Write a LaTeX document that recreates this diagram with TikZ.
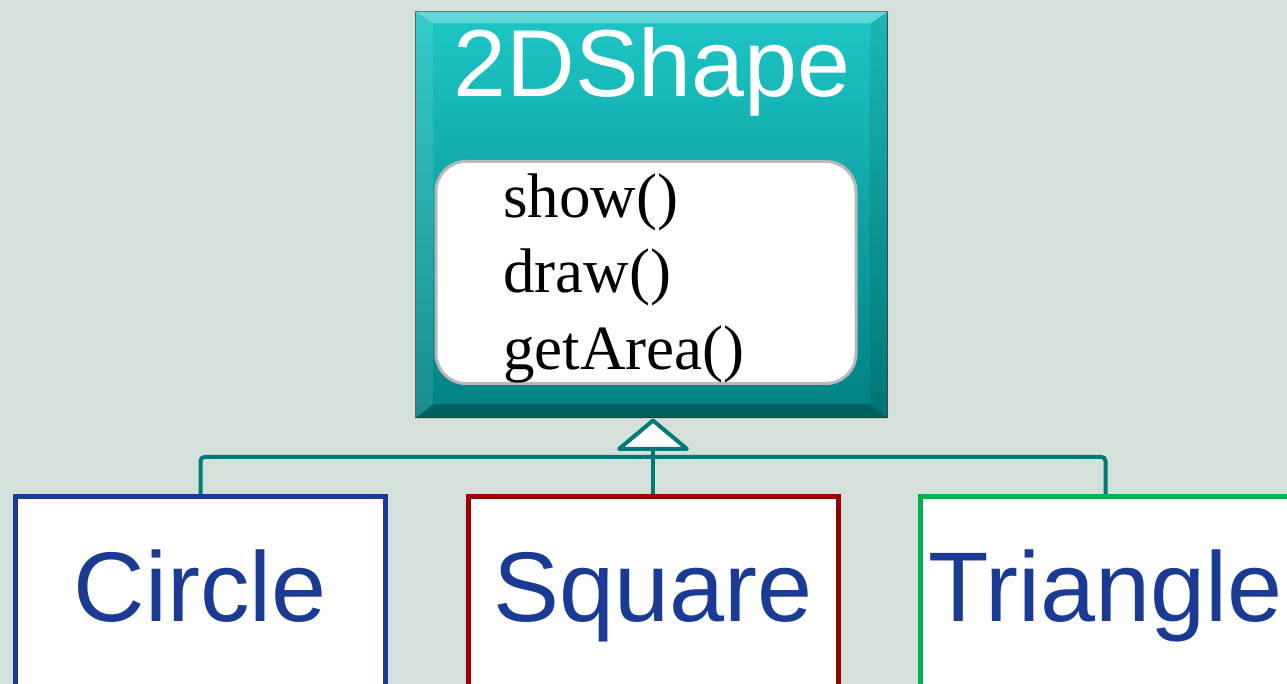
\documentclass[tikz,border=0pt]{standalone}
\usepackage{fontspec}
\setmainfont{Liberation Serif}
\setsansfont{Liberation Sans}
\usetikzlibrary{arrows.meta,positioning}
\definecolor{canvas}{RGB}{212,225,219}
\definecolor{tealtop}{RGB}{30,198,198}
\definecolor{tealbot}{RGB}{0,128,128}
\definecolor{linkteal}{RGB}{0,122,118}
\definecolor{navytext}{RGB}{26,58,148}
\definecolor{circblue}{RGB}{26,58,148}
\definecolor{sqred}{RGB}{153,0,0}
\definecolor{trigreen}{RGB}{0,176,80}
\tikzset{
  super/.style={rectangle,draw=gray!60!black,line width=0.5pt,top color=tealtop,
                bottom color=tealbot,minimum width=236pt,minimum height=203pt,inner sep=0pt},
  opsbox/.style={rectangle,rounded corners=15pt,draw=gray!55,line width=1.5pt,
                 fill=white,minimum width=210pt,minimum height=111pt},
  title/.style={font=\sffamily\fontsize{47.6}{50}\selectfont,text=white,inner sep=0pt},
  method/.style={font=\fontsize{31.5}{38}\selectfont,inner sep=0pt},
  sub/.style={rectangle,draw=#1,line width=2.5pt,fill=white,inner sep=2pt,
              minimum width=185pt,minimum height=104pt,text height=35.5pt,text depth=14pt,
              font=\sffamily\fontsize{49.5}{52}\selectfont,text=navytext},
  link/.style={draw=linkteal,line width=2pt,rounded corners=2pt},
}

\begin{document}
\begin{tikzpicture}[x=0.5pt,y=-0.5pt]
  \useasboundingbox (0,0) rectangle (1287,684);
  \fill[canvas] (0,0) rectangle (1287,684);
  \clip (0,0) rectangle (1287,684);
  % superclass box with bevel
  \node[super] (shape) at (651.5,215) {};
  \fill[white,opacity=0.3] (shape.north west) -- (shape.north east)
    -- ([xshift=-9pt,yshift=-6pt]shape.north east) -- ([xshift=9pt,yshift=-6pt]shape.north west) -- cycle;
  \fill[white,opacity=0.1] (shape.north west) -- ([xshift=9pt,yshift=-6pt]shape.north west)
    -- ([xshift=9pt,yshift=7pt]shape.south west) -- (shape.south west) -- cycle;
  \fill[black,opacity=0.08] (shape.north east) -- ([xshift=-9pt,yshift=-6pt]shape.north east)
    -- ([xshift=-9pt,yshift=7pt]shape.south east) -- (shape.south east) -- cycle;
  \fill[black,opacity=0.25] (shape.south west) -- (shape.south east)
    -- ([xshift=-9pt,yshift=7pt]shape.south east) -- ([xshift=9pt,yshift=7pt]shape.south west) -- cycle;
  \node[title,anchor=base] (name) at (652,97) {2DShape};
  \node[opsbox] (ops) at (646,272.5) {};
  \node[method,anchor=base west] (mshow) at (503,218) {show()};
  \node[method,anchor=base west] (mdraw) at (503,293) {draw()};
  \node[method,anchor=base west] (marea) at (503,370) {getArea()};
  % subclasses
  \node[sub=circblue] (circle) at (200.5,600.5) {Circle};
  \node[sub=sqred] (square) at (653,600.5) {Square};
  \node[sub=trigreen] (triangle) at (1105.5,600.5) {Triangle};
  % inheritance
  \coordinate (bus) at (653,457);
  \draw[link] (circle.north) |- (bus) -| (triangle.north);
  \draw[link,-{Triangle[open,round,length=16.5pt,width=39pt,fill=white]}]
    (square.north) -- (square.north |- shape.south);
\end{tikzpicture}
\end{document}
